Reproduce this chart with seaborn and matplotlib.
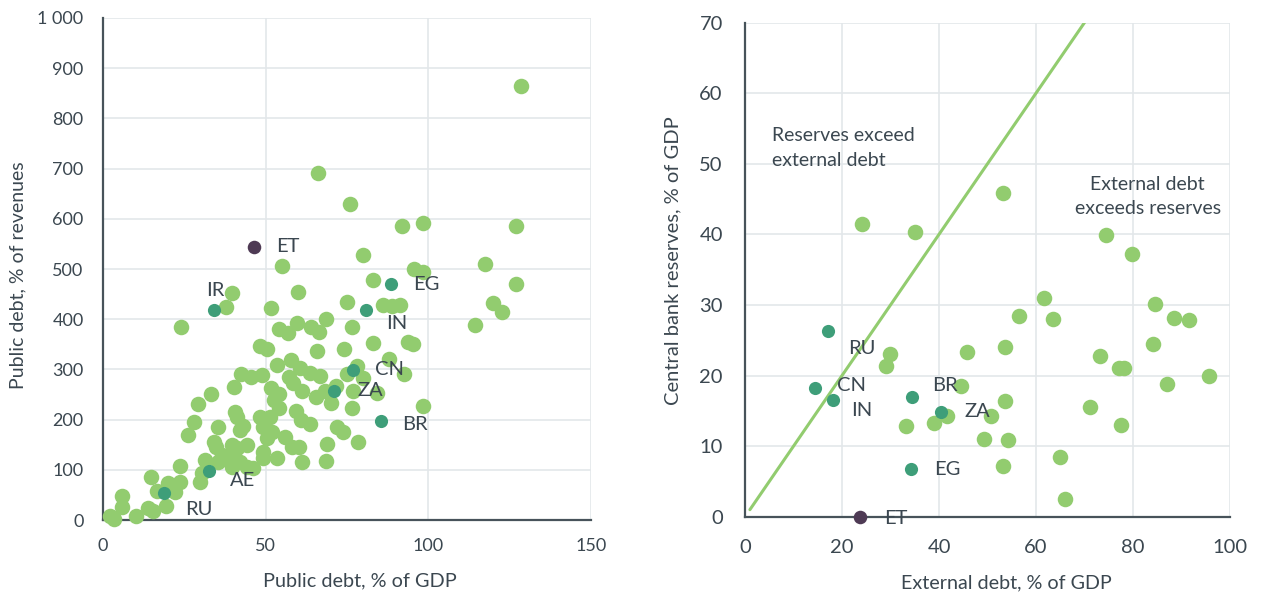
import pandas as pd
import matplotlib.pyplot as plt
import seaborn as sns

# Left panel: public debt, % of GDP vs % of revenues (other countries)
pub_gdp = [128.5, 66, 76, 92, 98.4, 127, 80, 55, 117.5, 95.6, 98.4, 83, 127, 39.6, 60,
           37.8, 51.6, 24, 75, 86, 88.7, 91.3, 120, 122.6, 114.3, 68.4, 59.5, 63.8, 66.3,
           54, 56.8, 76.6, 83, 93.8, 95.3, 48.3, 50.4, 65.7, 74, 53.5, 57.8, 60.6, 63.6,
           66.7, 78, 74.9, 79.8, 88, 92.5, 42.4, 45.5, 48.8, 57.2, 58.4, 61.2, 40.3, 33.1,
           29.1, 51.6, 54, 65.5, 68.2, 70, 71.6, 76.8, 84.2, 76.4, 98.4, 54, 59.2, 60.9,
           63.6, 40.6, 41.1, 43, 42, 35.2, 27.9, 26, 48.3, 51.3, 49.2, 51.9, 50.3, 56, 58,
           60.2, 71.9, 73.6, 68.9, 78.5, 34.1, 34.7, 39.6, 44.2, 31.4, 35.4, 39, 42.1, 44.2,
           46.1, 40, 41.1, 49.2, 49.2, 53.5, 61.2, 68.4, 30.3, 29.8, 23.5, 23.7, 14.7, 16.5,
           20.1, 22.1, 19.4, 13.9, 15.5, 10, 5.9, 5.7, 2.2, 3.4, 39.6, 36.5, 52.4]
pub_rev = [865, 691, 629, 585, 592, 585, 528, 506, 510, 500, 494, 478, 470, 452, 454,
           425, 422, 384, 435, 428, 426, 428, 433, 414, 388, 400, 392, 385, 375,
           380, 372, 385, 352, 355, 350, 347, 340, 337, 340, 309, 319, 302, 293,
           287, 307, 291, 283, 320, 291, 291, 285, 289, 285, 273, 257, 265, 251,
           231, 263, 251, 246, 256, 233, 267, 256, 253, 223, 228, 224, 218, 199,
           191, 216, 206, 187, 179, 186, 196, 169, 206, 206, 186, 176, 163, 166, 146,
           146, 186, 176, 151, 155, 155, 145, 149, 149, 120, 116, 120, 116, 106,
           104, 133, 143, 136, 124, 124, 116, 118, 94, 75, 108, 76, 86, 58,
           73, 56, 28, 23, 17, 7, 48, 26, 8, 3, 106, 129, 239]

# highlighted countries, left panel
hl_codes_l = ["IR", "EG", "IN", "CN", "ZA", "BR", "AE", "RU"]
hl_gdp = [34, 88.5, 80.8, 76.9, 71.1, 85.3, 32.5, 18.8]
hl_rev = [418, 470, 418, 299, 257, 197, 98, 54]
et_gdp, et_rev = 46.4, 544

# Right panel: external debt vs central bank reserves, % of GDP
ext_debt = [53.1, 24.1, 35, 74.4, 79.7, 61.6, 56.4, 63.5, 84.6, 88.5, 91.6, 84.2, 53.6,
            45.7, 73.1, 77.2, 78.2, 95.7, 87.1, 29.8, 29.1, 44.5, 53.5, 71.2, 77.5, 33.1,
            39, 41.7, 50.7, 49.3, 54.3, 64.9, 53.1, 66]
reserves = [45.9, 41.5, 40.3, 39.9, 37.2, 31.0, 28.4, 28.0, 30.1, 28.1, 27.9, 24.5, 24.1,
            23.4, 22.7, 21.1, 21.1, 19.9, 18.8, 23.0, 21.3, 18.5, 16.4, 15.5, 13.0, 12.8,
            13.3, 14.2, 14.2, 11.0, 10.8, 8.5, 7.2, 2.5]
hl_codes_r = ["RU", "CN", "IN", "BR", "ZA", "EG"]
hl_ext = [17.1, 14.5, 18.1, 34.4, 40.5, 34.2]
hl_res = [26.3, 18.2, 16.6, 16.9, 14.9, 6.8]
et_ext, et_res = 23.7, 0

# label offsets in pixels (dx, dy)
offs_l = {"IR": (-8, 20), "EG": (22, 0), "IN": (20, -13), "CN": (22, 0), "ZA": (23, 0),
          "BR": (22, -3), "AE": (21, -10), "RU": (21, -17)}
offs_r = {"RU": (20, -17), "CN": (22, 3), "IN": (18, -11), "BR": (20, 12), "ZA": (23, 0),
          "EG": (23, -1)}

green = "#92CC6F"
teal = "#3E9E79"
purple = "#4E3A54"
txt = "#3B4750"
grid = "#E3E7EA"

sns.set_theme(style="white")
plt.rcParams["font.family"] = ["Lato", "DejaVu Sans"]

fig = plt.figure(figsize=(12.63, 5.96), dpi=100)
ax1 = fig.add_axes([0.0816, 0.1275, 0.3864, 0.8423])
ax2 = fig.add_axes([0.5899, 0.133, 0.384, 0.8292])

# ---- left panel
df_l = pd.DataFrame({"gdp": pub_gdp, "rev": pub_rev})
sns.scatterplot(data=df_l, x="gdp", y="rev", ax=ax1, color=green, s=125,
                linewidth=0, clip_on=False, zorder=3)
sns.scatterplot(x=hl_gdp, y=hl_rev, ax=ax1, color=teal, s=90, linewidth=0,
                clip_on=False, zorder=4)
sns.scatterplot(x=[et_gdp], y=[et_rev], ax=ax1, color=purple, s=95, linewidth=0,
                clip_on=False, zorder=4)
for c, x, y in zip(hl_codes_l, hl_gdp, hl_rev):
    dx, dy = offs_l[c]
    ax1.annotate(c, (x, y), xytext=(dx, dy), textcoords="offset pixels",
                 ha="left", va="center", fontsize=14.5, color=txt, zorder=6)
ax1.annotate("ET", (et_gdp, et_rev), xytext=(22, 0), textcoords="offset pixels",
             ha="left", va="center", fontsize=14.5, color=txt, zorder=6)

ax1.set_xlim(0, 150)
ax1.set_ylim(0, 1000)
ax1.set_xticks([0, 50, 100, 150])
ax1.set_yticks(range(0, 1001, 100))
ax1.set_yticklabels(["0", "100", "200", "300", "400", "500", "600", "700", "800",
                     "900", "1 000"])
ax1.set_xlabel("Public debt, % of GDP", fontsize=14.3, color=txt)
ax1.set_ylabel("Public debt, % of revenues", fontsize=14, color=txt)
ax1.xaxis.set_label_coords(0.527, -0.104)
ax1.yaxis.set_label_coords(-0.158, 0.488)
ax1.tick_params(axis="both", labelsize=13, colors=txt, length=0)
ax1.tick_params(axis="y", pad=14)
ax1.tick_params(axis="x", pad=13)

# ---- right panel
df_r = pd.DataFrame({"ext": ext_debt, "res": reserves})
ax2.plot([1, 70], [1, 70], color=green, lw=2.2, zorder=2)
sns.scatterplot(data=df_r, x="ext", y="res", ax=ax2, color=green, s=125,
                linewidth=0, clip_on=False, zorder=3)
sns.scatterplot(x=hl_ext, y=hl_res, ax=ax2, color=teal, s=90, linewidth=0,
                clip_on=False, zorder=4)
sns.scatterplot(x=[et_ext], y=[et_res], ax=ax2, color=purple, s=95, linewidth=0,
                clip_on=False, zorder=5)
for c, x, y in zip(hl_codes_r, hl_ext, hl_res):
    dx, dy = offs_r[c]
    ax2.annotate(c, (x, y), xytext=(dx, dy), textcoords="offset pixels",
                 ha="left", va="center", fontsize=14.5, color=txt, zorder=6)
ax2.annotate("ET", (et_ext, et_res), xytext=(24, -2), textcoords="offset pixels",
             ha="left", va="center", fontsize=14.5, color=txt, zorder=6,
             annotation_clip=False)
ax2.text(0.055, 0.746, "Reserves exceed\nexternal debt", transform=ax2.transAxes,
         ha="left", va="center", fontsize=14, color=txt, linespacing=1.55)
ax2.text(0.83, 0.648, "External debt\nexceeds reserves", transform=ax2.transAxes,
         ha="center", va="center", fontsize=14, color=txt, linespacing=1.55)

ax2.set_xlim(0, 100)
ax2.set_ylim(0, 70)
ax2.set_xticks(range(0, 101, 20))
ax2.set_yticks(range(0, 71, 10))
ax2.set_xlabel("External debt, % of GDP", fontsize=14.2, color=txt)
ax2.set_ylabel("Central bank reserves, % of GDP", fontsize=14.5, color=txt)
ax2.xaxis.set_label_coords(0.538, -0.116)
ax2.yaxis.set_label_coords(-0.132, 0.518)
ax2.tick_params(axis="both", labelsize=14.5, colors=txt, length=0)
ax2.tick_params(axis="y", pad=16)
ax2.tick_params(axis="x", pad=16)

for ax in (ax1, ax2):
    ax.grid(True, color=grid, lw=1.2)
    ax.set_axisbelow(True)
    for s in ("top", "right"):
        ax.spines[s].set_visible(False)
    for s in ("left", "bottom"):
        ax.spines[s].set_color("#47535A")
        ax.spines[s].set_linewidth(1.6)
        ax.spines[s].set_zorder(2.5)

fig.savefig("out.png", dpi=100)
